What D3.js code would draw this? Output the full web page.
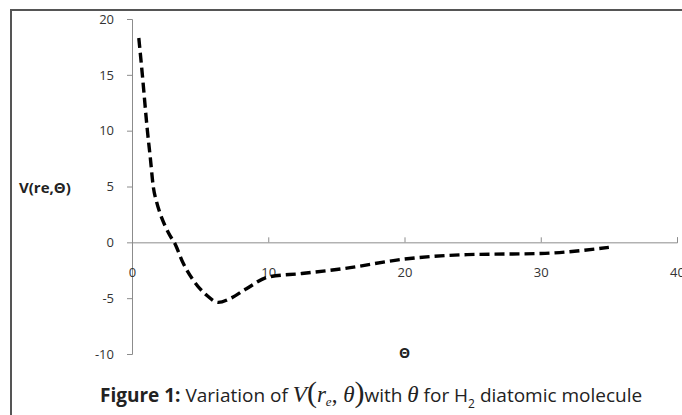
<!DOCTYPE html>
<html>
<head>
<meta charset="utf-8">
<script src="https://cdn.jsdelivr.net/npm/d3@7"></script>
<style>
  body { margin: 0; background: #fff; }
  svg { display: block; }
</style>
</head>
<body>
<script>
// values
const theta = [0.5, 0.76, 1.13, 1.35, 1.56, 1.81, 2.06, 2.42, 2.79, 3.1, 3.77, 4.5, 5.48, 6.33, 7.19, 8.4, 10, 12.4, 15.5, 20, 24.6, 30, 35];
const potential = [18.3, 15, 10, 7.5, 5, 3.6, 2.6, 1.5, 0.6, 0, -1.9, -3.4, -4.74, -5.38, -5.04, -4.15, -3.1, -2.8, -2.36, -1.5, -1.1, -1.0, -0.45];
const xTicks = [0, 10, 20, 30, 40];
const yTicks = [-10, -5, 0, 5, 10, 15, 20];

const W = 682, H = 415;
const svg = d3.select("body").append("svg").attr("width", W).attr("height", H);

// frame (left + top only visible)
svg.append("path")
  .attr("d", "M11,415V10H682")
  .attr("fill", "none")
  .attr("stroke", "#555")
  .attr("stroke-width", 2);

const x = d3.scaleLinear().domain([0, 40]).range([132, 677]);
const y = d3.scaleLinear().domain([-10, 20]).range([354, 19]);

const axisCol = "#8c8c8c";
const font = "'Open Sans', 'Liberation Sans', sans-serif";
const fmt = d => String(d); // plain hyphen minus like the original

// y axis
const yAxis = svg.append("g")
  .attr("transform", `translate(${x(0)},0)`)
  .call(d3.axisLeft(y).tickValues(yTicks).tickSize(5).tickPadding(13).tickFormat(fmt));
yAxis.select(".domain").attr("stroke", axisCol);
yAxis.selectAll(".tick line").attr("stroke", axisCol);
yAxis.selectAll("text").attr("font-family", font).attr("font-size", 13).attr("fill", "#333");

// x axis (ticks point up, labels sit lower)
const xAxis = svg.append("g")
  .attr("transform", `translate(0,${y(0)})`)
  .call(d3.axisTop(x).tickValues(xTicks).tickSize(5).tickFormat(fmt));
xAxis.select(".domain").attr("stroke", axisCol);
xAxis.selectAll(".tick line").attr("stroke", axisCol);
xAxis.selectAll("text")
  .attr("y", 35)
  .attr("font-family", font).attr("font-size", 13).attr("fill", "#333");

// axis titles
svg.append("text")
  .attr("x", 19).attr("y", 193)
  .attr("font-family", font).attr("font-size", 15).attr("font-weight", "bold").attr("fill", "#222")
  .text("V(re,Θ)");
svg.append("text")
  .attr("x", x(20)).attr("y", 358).attr("text-anchor", "middle")
  .attr("font-family", font).attr("font-size", 14).attr("font-weight", "bold").attr("fill", "#222")
  .text("Θ");

// dashed curve
const pts = theta.map((t, i) => [t, potential[i]]);
svg.append("path")
  .datum(pts)
  .attr("fill", "none")
  .attr("stroke", "#000")
  .attr("stroke-width", 3.4)
  .attr("stroke-dasharray", "10,5")
  .attr("d", d3.line().x(d => x(d[0])).y(d => y(d[1])).curve(d3.curveMonotoneX));

// caption
const serif = "'Liberation Serif', 'DejaVu Serif', serif";
const cap = svg.append("text")
  .attr("x", 100).attr("y", 402)
  .attr("font-family", font).attr("font-size", 19).attr("fill", "#222");
cap.append("tspan").attr("font-weight", "bold").text("Figure 1:");
cap.append("tspan").text(" Variation of ");
cap.append("tspan").attr("font-family", serif).attr("font-style", "italic").attr("font-size", 23).text("V");
cap.append("tspan").attr("font-family", serif).attr("font-size", 30).text("(");
cap.append("tspan").attr("font-family", serif).attr("font-style", "italic").attr("font-size", 23).text("r");
cap.append("tspan").attr("font-family", serif).attr("font-style", "italic").attr("font-size", 13).attr("dy", 4).text("e");
cap.append("tspan").attr("font-family", serif).attr("font-size", 23).attr("dy", -4).text(", ");
cap.append("tspan").attr("font-family", serif).attr("font-style", "italic").attr("font-size", 23).text("θ");
cap.append("tspan").attr("font-family", serif).attr("font-size", 30).text(")");
cap.append("tspan").text("with  ");
cap.append("tspan").attr("font-family", serif).attr("font-style", "italic").attr("font-size", 23).text("θ");
cap.append("tspan").text(" for H");
cap.append("tspan").attr("font-size", 12).attr("dy", 6).text("2");
cap.append("tspan").attr("dy", -6).text(" diatomic molecule");
</script>
</body>
</html>
